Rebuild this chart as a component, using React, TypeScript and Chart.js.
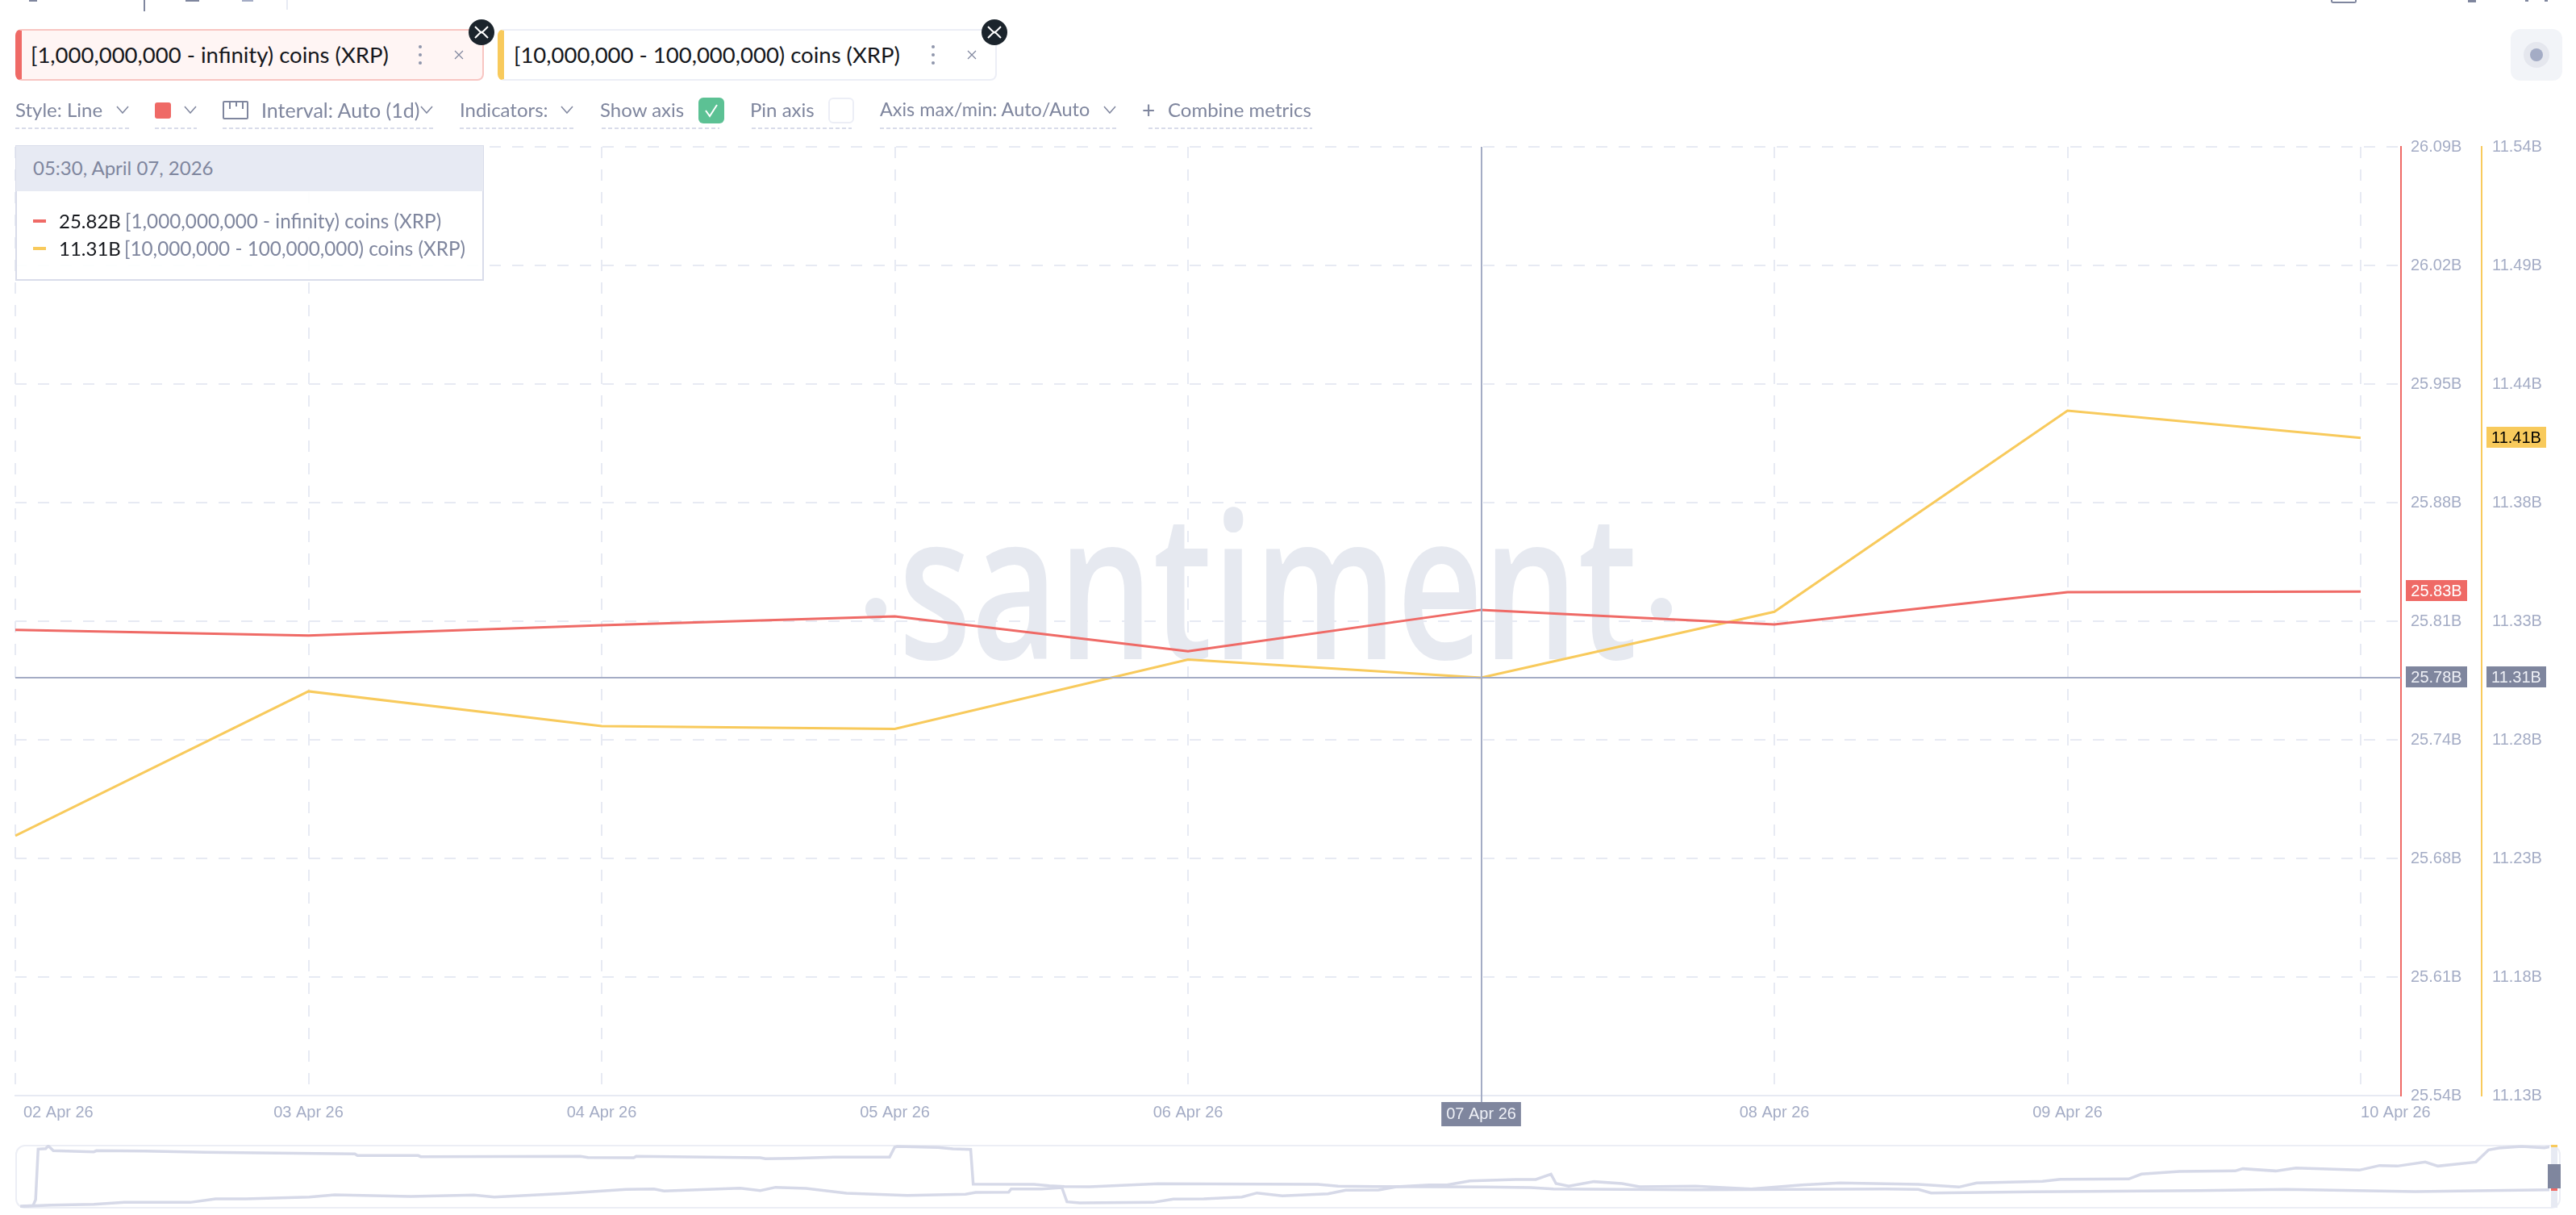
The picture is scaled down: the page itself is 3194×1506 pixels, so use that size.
import React, { useEffect, useRef } from "react";
import Chart from "chart.js/auto";

const dayLabels = ["02 Apr 26", "03 Apr 26", "04 Apr 26", "05 Apr 26", "06 Apr 26", "07 Apr 26", "08 Apr 26", "09 Apr 26", "10 Apr 26"];
const whaleValues = [25.81, 25.8067, 25.8127, 25.8178, 25.7976, 25.8216, 25.8131, 25.8318, 25.8322];
const midValues = [11.2423, 11.3047, 11.2897, 11.2885, 11.3184, 11.3106, 11.3391, 11.426, 11.4142];
const whaleTicks = ["25.54B", "25.61B", "25.68B", "25.74B", "25.81B", "25.88B", "25.95B", "26.02B", "26.09B"];
const midTicks = ["11.13B", "11.18B", "11.23B", "11.28B", "11.33B", "11.38B", "11.44B", "11.49B", "11.54B"];
const whaleRange = [25.54, 26.09];
const midRange = [11.13, 11.54];
const hoverIndex = 5;

// overview strip under the chart, percent of its width / height
const overviewAX = [0.2, 0.7, 0.8, 0.9, 1.2, 1.3, 1.5, 3.1, 3.2, 5.1, 7.5, 9.6, 13.4, 13.5, 15.9, 16, 22.3, 22.6, 24.4, 24.5, 29.4, 29.6, 30.7, 32.3, 34.5, 34.7, 34.8, 36.4, 37, 37.7, 37.8, 40.2, 40.8, 41.4, 42.4, 45.1, 51.4, 52.2, 53.6, 58, 59.8, 60.7, 66.3, 73.8, 75.1, 75.6, 79.6, 86.2, 89.6, 94.7, 100];
const overviewAY = [2.1, 3.4, 12.8, 93.2, 94, 98.3, 90.6, 88.9, 90.6, 90.2, 88, 87.2, 85.5, 82.9, 82.9, 81.2, 81.6, 79.9, 79.5, 81.6, 79.5, 77.8, 78.6, 80.3, 80.3, 96.2, 97.4, 95.7, 93.6, 92.7, 37.6, 37.2, 35, 33.8, 33.3, 38, 37.2, 34.2, 33.8, 32.9, 32.1, 29.9, 28.6, 29.9, 29.1, 23.5, 25.2, 27.4, 29.1, 25.6, 28.6];
const overviewBX = [0.2, 1.4, 3.1, 4.3, 6.9, 7.9, 9.1, 11.6, 12.6, 15.6, 18.1, 18.9, 21.7, 24.1, 25.2, 25.6, 28.6, 29.4, 30, 31.2, 32.8, 35.2, 37.5, 37.9, 39.2, 39.3, 40.5, 41.3, 41.5, 42, 44.9, 45.7, 46.9, 48.4, 49, 50, 51.8, 52.5, 53.8, 54.5, 55.8, 56.5, 57.4, 59.2, 60, 60.6, 60.8, 61.3, 62.3, 63.4, 64.1, 66.3, 68.5, 70.5, 72, 75.1, 76.7, 77.4, 80, 80.7, 83.4, 83.9, 85.4, 87.6, 87.9, 89.2, 90, 92.5, 93.3, 94, 95.1, 95.6, 97.1, 97.6, 98, 98.9, 99.8, 100];
const overviewBY = [2.1, 4.3, 5.6, 8.5, 8.5, 14.1, 14.1, 17.1, 20.5, 17.9, 20.1, 17.1, 22.6, 29.1, 29.9, 26.5, 31.2, 27.4, 32.5, 30.8, 23.1, 19.7, 21.4, 24.4, 24.8, 29.9, 29.9, 32.1, 9.4, 7.7, 8.5, 13.7, 14.1, 17.1, 23.5, 18.8, 22.2, 27.8, 28.2, 33.3, 36.3, 36.3, 42.7, 44.9, 44.9, 53.4, 38.5, 34.2, 41.5, 38.5, 33.3, 34.2, 29.9, 36.3, 39.3, 37.2, 32.9, 39.3, 41.9, 45.3, 45.7, 53.4, 57.7, 58.5, 62, 58.5, 63.2, 59.8, 67.1, 66.2, 72.6, 66.2, 72.6, 91.9, 94.9, 97.4, 95.3, 97];

const RED = "#ef6a66";
const YELLOW = "#f8ca5c";
const SLATE = "#7f869e";
const MUTED = "#a4acc5";
const PORCELAIN = "#e7eaf3";
const UI_FONT = "Lato, sans-serif";
const AXIS_FONT = { family: '"Liberation Sans"', size: 20 };

const evenTicks = (range: number[], count: number) =>
  Array.from({ length: count }, (_, i) => ({ value: range[0] + (i * (range[1] - range[0])) / (count - 1) }));

const drawBadge = (ctx: any, text: string, left: number, width: number, y: number, bg: string, fg: string) => {
  ctx.fillStyle = bg;
  ctx.fillRect(left, y - 13, width, 26);
  ctx.fillStyle = fg;
  ctx.font = '20px "Liberation Sans"';
  ctx.textAlign = "center";
  ctx.textBaseline = "middle";
  ctx.fillText(text, left + width / 2, y + 1);
};

const watermarkPlugin = {
  id: "watermark",
  beforeDatasetsDraw: (chart: any) => {
    const { ctx } = chart;
    ctx.save();
    ctx.fillStyle = "#e6e9f0";
    ctx.font = '600 252px "Open Sans"';
    ctx.textAlign = "left";
    ctx.textBaseline = "alphabetic";
    const sx = 916 / ctx.measureText("santiment").width;
    ctx.translate(1114, 817);
    ctx.scale(sx, 1);
    ctx.fillText("santiment", 0, 0);
    ctx.restore();
    ctx.save();
    ctx.fillStyle = "#e6e9f0";
    [1086, 2060].forEach((x) => {
      ctx.beginPath();
      ctx.ellipse(x, 755, 13, 14, 0, 0, Math.PI * 2);
      ctx.fill();
    });
    ctx.restore();
  },
};

// first and last date labels sit right of their tick, the hovered one lower
const dateLabelPlugin = {
  id: "dateLabels",
  afterLayout: (chart: any) => {
    const items = chart.scales.x.getLabelItems(chart.chartArea);
    if (items.length < 9) return;
    items[0].options.textAlign = "left";
    items[0].options.translation[0] += 10;
    items[8].options.textAlign = "left";
    items[hoverIndex].options.translation[1] += 2;
  },
};

const crosshairPlugin = {
  id: "crosshair",
  afterDatasetsDraw: (chart: any) => {
    const { ctx, chartArea, scales } = chart;
    const x = Math.round(scales.x.getPixelForValue(hoverIndex));
    const y = Math.round(scales.yMid.getPixelForValue(midValues[hoverIndex]));
    ctx.save();
    ctx.strokeStyle = MUTED;
    ctx.lineWidth = 2;
    ctx.beginPath();
    ctx.moveTo(x, chartArea.top);
    ctx.lineTo(x, chartArea.bottom + 8);
    ctx.moveTo(chartArea.left, y);
    ctx.lineTo(chartArea.right, y);
    ctx.stroke();
    const last = dayLabels.length - 1;
    const whaleY = scales.yWhale.getPixelForValue(whaleValues[last]);
    const midY = scales.yMid.getPixelForValue(midValues[last]);
    drawBadge(ctx, `${whaleValues[last].toFixed(2)}B`, chartArea.right + 6, 76, Math.round(whaleY - 1), RED, "#ffffff");
    drawBadge(ctx, `${midValues[last].toFixed(2)}B`, chartArea.right + 106, 74, Math.round(midY - 1), YELLOW, "#000000");
    drawBadge(ctx, `${scales.yWhale.getValueForPixel(y).toFixed(2)}B`, chartArea.right + 6, 76, y - 1, SLATE, "#eef0f6");
    drawBadge(ctx, `${midValues[hoverIndex].toFixed(2)}B`, chartArea.right + 106, 74, y - 1, SLATE, "#eef0f6");
    ctx.restore();
  },
};

const Text = ({ x, y, size = 24, color = SLATE, children }: any) => (
  <div
    style={{
      position: "absolute",
      left: x,
      top: y,
      transform: "translateY(-50%)",
      font: `${size}px ${UI_FONT}`,
      color,
      whiteSpace: "nowrap",
      lineHeight: 1,
    }}
  >
    {children}
  </div>
);

const Box = ({ x, y, w, h, style }: any) => (
  <div style={{ position: "absolute", left: x, top: y, width: w, height: h, boxSizing: "border-box", ...style }} />
);

const Underline = ({ from, to }: any) => (
  <Box
    x={from}
    y={158}
    w={to - from}
    h={2}
    style={{ background: "repeating-linear-gradient(90deg,#d9dcea 0 5px,transparent 5px 8px)" }}
  />
);

const Chevron = ({ x }: any) => (
  <svg style={{ position: "absolute", left: x - 8, top: 131 }} width="16" height="10">
    <path d="M1 1 L8 9 L15 1" fill="none" stroke={SLATE} strokeWidth="1.5" />
  </svg>
);

const XrpBadge = ({ x }: any) => (
  <svg style={{ position: "absolute", left: x - 16, top: 24 }} width="32" height="32">
    <circle cx="16" cy="16" r="16" fill="#1b242c" />
    <path d="M8 9 L13.5 14.5 Q16 17 18.5 14.5 L24 9 M8 23 L13.5 17.5 Q16 15 18.5 17.5 L24 23" fill="none" stroke="#fff" strokeWidth="2" />
  </svg>
);

const MenuDots = ({ x }: any) => (
  <svg style={{ position: "absolute", left: x - 3, top: 55 }} width="6" height="26">
    <circle cx="3" cy="3" r="2" fill="#8f96ac" />
    <circle cx="3" cy="13" r="2" fill="#8f96ac" />
    <circle cx="3" cy="23" r="2" fill="#8f96ac" />
  </svg>
);

const Close = ({ x }: any) => (
  <svg style={{ position: "absolute", left: x - 6, top: 62 }} width="12" height="12">
    <path d="M1 1 L11 11 M11 1 L1 11" stroke={SLATE} strokeWidth="1.2" />
  </svg>
);

const App: React.FC = () => {
  const canvasRef = useRef<HTMLCanvasElement | null>(null);
  const overviewRef = useRef<HTMLCanvasElement | null>(null);

  useEffect(() => {
    if (!canvasRef.current || !overviewRef.current) return;

    const chart = new Chart(canvasRef.current, {
      type: "line",
      data: {
        datasets: [
          {
            label: "[1,000,000,000 - infinity) coins (XRP)",
            data: whaleValues.map((y, x) => ({ x, y })),
            borderColor: RED,
            borderWidth: 3,
            pointRadius: 0,
            yAxisID: "yWhale",
          },
          {
            label: "[10,000,000 - 100,000,000) coins (XRP)",
            data: midValues.map((y, x) => ({ x, y })),
            borderColor: YELLOW,
            borderWidth: 3,
            pointRadius: 0,
            yAxisID: "yMid",
          },
        ],
      },
      options: {
        responsive: false,
        animation: false,
        events: [],
        layout: { padding: { left: 19, top: 182, right: 0, bottom: 0 } },
        plugins: { legend: { display: false }, tooltip: { enabled: false } },
        scales: {
          x: {
            type: "linear",
            min: 0,
            max: 8.1375,
            afterFit: (s: any) => {
              s.height = 148;
              s.paddingLeft = 0;
              s.paddingRight = 0;
            },
            afterBuildTicks: (s: any) => {
              s.ticks = dayLabels.map((_, value) => ({ value }));
            },
            grid: { color: PORCELAIN, lineWidth: 2, drawTicks: false },
            border: { color: PORCELAIN, width: 2, dash: [14, 14] },
            ticks: {
              autoSkip: false,
              maxRotation: 0,
              padding: 9,
              font: AXIS_FONT,
              color: (c: any) => (c.index === hoverIndex ? "#eef0f6" : MUTED),
              showLabelBackdrop: (c: any) => c.index === hoverIndex,
              backdropColor: SLATE,
              backdropPadding: { x: 6, y: 3 },
              callback: (_v: any, i: number) => dayLabels[i],
            },
          },
          yWhale: {
            position: "right",
            weight: 0,
            min: whaleRange[0],
            max: whaleRange[1],
            afterFit: (s: any) => {
              s.width = 100;
              s.paddingTop = 0;
              s.paddingBottom = 0;
            },
            afterBuildTicks: (s: any) => {
              s.ticks = evenTicks(whaleRange, whaleTicks.length);
            },
            grid: { color: PORCELAIN, lineWidth: 2, drawTicks: false },
            border: { color: RED, width: 2, dash: [14, 14] },
            ticks: {
              padding: 12,
              font: AXIS_FONT,
              color: MUTED,
              callback: (_v: any, i: number) => whaleTicks[i],
            },
          },
          yMid: {
            position: "right",
            weight: 1,
            min: midRange[0],
            max: midRange[1],
            afterFit: (s: any) => {
              s.width = 117;
              s.paddingTop = 0;
              s.paddingBottom = 0;
            },
            afterBuildTicks: (s: any) => {
              s.ticks = evenTicks(midRange, midTicks.length);
            },
            grid: { display: false, drawTicks: false },
            border: { color: YELLOW, width: 2 },
            ticks: {
              padding: 13,
              font: AXIS_FONT,
              color: MUTED,
              callback: (_v: any, i: number) => midTicks[i],
            },
          },
        },
      },
      plugins: [watermarkPlugin, dateLabelPlugin, crosshairPlugin],
    } as any);

    const overview = new Chart(overviewRef.current, {
      type: "line",
      data: {
        datasets: [
          {
            data: overviewAX.map((x, i) => ({ x, y: overviewAY[i] })),
            borderColor: "#d6d9e8",
            borderWidth: 3.5,
            pointRadius: 0,
          },
          {
            data: overviewBX.map((x, i) => ({ x, y: overviewBY[i] })),
            borderColor: "#d6d9e8",
            borderWidth: 3.5,
            pointRadius: 0,
          },
        ],
      },
      options: {
        responsive: false,
        animation: false,
        events: [],
        layout: { padding: 0 },
        plugins: { legend: { display: false }, tooltip: { enabled: false } },
        scales: {
          x: { type: "linear", display: false, min: 0, max: 100 },
          y: { display: false, min: 0, max: 100 },
        },
      },
    } as any);

    return () => {
      chart.destroy();
      overview.destroy();
    };
  }, []);

  return (
    <div style={{ position: "absolute", left: 0, top: 0, width: 3194, height: 1506, background: "#fff", overflow: "hidden" }}>
      <canvas ref={canvasRef} width={3194} height={1506} style={{ position: "absolute", left: 0, top: 0 }} />

      {/* cut off page header */}
      <Box x={36} y={0} w={10} h={2} style={{ background: SLATE }} />
      <Box x={178} y={0} w={2} h={14} style={{ background: SLATE }} />
      <Box x={230} y={0} w={17} h={2} style={{ background: SLATE }} />
      <Box x={300} y={0} w={14} h={2} style={{ background: MUTED }} />
      <Box x={355} y={0} w={2} h={12} style={{ background: PORCELAIN }} />
      <Box x={2890} y={0} w={32} h={4} style={{ border: `2px solid ${SLATE}`, borderTop: "none", borderRadius: "0 0 3px 3px" }} />
      <Box x={3060} y={0} w={10} h={3} style={{ background: SLATE }} />
      <Box x={3131} y={0} w={4} h={2} style={{ background: SLATE }} />
      <Box x={3155} y={0} w={4} h={2} style={{ background: SLATE }} />

      {/* metric chips */}
      <Box x={19} y={36} w={581} h={64} style={{ background: "#fff5f4", border: "2px solid #f8c5c2", borderLeft: `8px solid ${RED}`, borderRadius: 8 }} />
      <Text x={38} y={68} size={27.5} color="#15171c">[1,000,000,000 - infinity) coins (XRP)</Text>
      <MenuDots x={521} />
      <Close x={569} />
      <XrpBadge x={597} />
      <Box x={617} y={36} w={619} h={64} style={{ background: "#fff", border: "2px solid #eceef6", borderLeft: `8px solid ${YELLOW}`, borderRadius: 8 }} />
      <Text x={637} y={68} size={27.5} color="#15171c">[10,000,000 - 100,000,000) coins (XRP)</Text>
      <MenuDots x={1157} />
      <Close x={1205} />
      <XrpBadge x={1233} />

      <Box x={3113} y={36} w={64} h={64} style={{ background: "#f2f4f8", borderRadius: 12 }} />
      <Box x={3129} y={52} w={32} h={32} style={{ background: "#e5e7ee", borderRadius: "50%" }} />
      <Box x={3137} y={60} w={16} h={16} style={{ background: MUTED, borderRadius: "50%" }} />

      {/* settings row */}
      <Text x={19} y={136}>Style: Line</Text>
      <Chevron x={152} />
      <Underline from={19} to={160} />
      <Box x={192} y={127} w={20} h={20} style={{ background: RED, borderRadius: 3 }} />
      <Chevron x={236} />
      <Underline from={192} to={244} />
      <Box x={276} y={125} w={32} h={23} style={{ border: `2px solid ${SLATE}`, borderRadius: 2 }} />
      <Box x={284} y={125} w={2} h={10} style={{ background: SLATE }} />
      <Box x={292} y={125} w={2} h={7} style={{ background: SLATE }} />
      <Box x={300} y={125} w={2} h={10} style={{ background: SLATE }} />
      <Text x={324} y={136} size={25}>Interval: Auto (1d)</Text>
      <Chevron x={529} />
      <Underline from={276} to={538} />
      <Text x={570} y={136}>Indicators:</Text>
      <Chevron x={703} />
      <Underline from={570} to={712} />
      <Text x={744} y={136}>Show axis</Text>
      <Box x={866} y={121} w={32} h={32} style={{ background: "#5cc194", borderRadius: 6 }} />
      <svg style={{ position: "absolute", left: 866, top: 121 }} width="32" height="32">
        <path d="M9 16 L14 23 L23 9" fill="none" stroke="#fff" strokeWidth="2" />
      </svg>
      <Underline from={746} to={892} />
      <Text x={930} y={136}>Pin axis</Text>
      <Box x={1027} y={121} w={32} h={32} style={{ border: "2px solid #eceef6", borderRadius: 6 }} />
      <Underline from={932} to={1056} />
      <Text x={1091} y={136} size={23.4}>Axis max/min: Auto/Auto</Text>
      <Chevron x={1376} />
      <Underline from={1091} to={1384} />
      <Text x={1416} y={136} size={28}>+</Text>
      <Text x={1448} y={136}>Combine metrics</Text>
      <Underline from={1424} to={1627} />

      {/* hover tooltip */}
      <Box x={19} y={180} w={581} h={168} style={{ background: "rgba(255,255,255,0.92)", border: "2px solid #d9dcea" }} />
      <Box x={20} y={181} w={579} h={56} style={{ background: PORCELAIN }} />
      <Text x={41} y={208}>05:30, April 07, 2026</Text>
      <Box x={41} y={272} w={16} h={4} style={{ background: RED }} />
      <Text x={73} y={274} color="#15171c">{`${whaleValues[hoverIndex].toFixed(2)}B`}</Text>
      <Text x={155} y={274} size={24.3}>[1,000,000,000 - infinity) coins (XRP)</Text>
      <Box x={41} y={306} w={16} h={4} style={{ background: YELLOW }} />
      <Text x={73} y={308} color="#15171c">{`${midValues[hoverIndex].toFixed(2)}B`}</Text>
      <Text x={154} y={308} size={24.3}>[10,000,000 - 100,000,000) coins (XRP)</Text>

      {/* overview strip */}
      <Box x={19} y={1419} w={3156} h={79} style={{ border: "2px solid #eceef5", borderRadius: 12 }} />
      <canvas ref={overviewRef} width={3142} height={78} style={{ position: "absolute", left: 19, top: 1419 }} />
      <Box x={3163} y={1420} w={8} h={77} style={{ background: PORCELAIN }} />
      <Box x={3159} y={1443} w={16} h={30} style={{ background: SLATE }} />
      <Box x={3163} y={1419} w={8} h={3} style={{ background: YELLOW }} />
      <Box x={3163} y={1473} w={8} h={3} style={{ background: RED }} />
    </div>
  );
};

export default App;
